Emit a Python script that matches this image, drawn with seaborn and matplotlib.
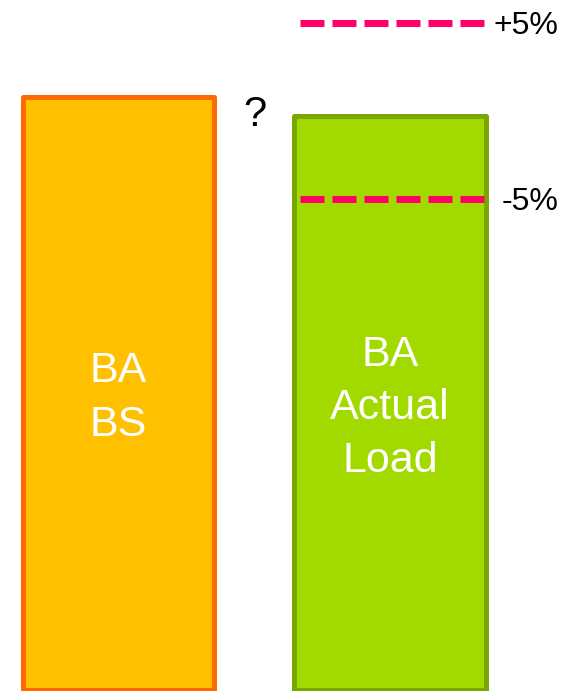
import matplotlib
matplotlib.use("Agg")
import matplotlib.pyplot as plt
import seaborn as sns
import pandas as pd

# Bars: benchmark size vs actual load
categories = ["BA\nBS", "BA\nActual\nLoad"]
values = [103.3, 100.0]
fill_colors = ["#FFC000", "#A2DA00"]
edge_colors = ["#FF6A00", "#78A800"]

# Tolerance band around the actual load
band_labels = ["+5%", "-5%"]
band_levels = [116.2, 85.5]

sns.set_theme(style="white")
plt.rcParams["font.family"] = ["Liberation Sans", "DejaVu Sans"]

fig = plt.figure(figsize=(5.62, 6.91), dpi=100)
ax = fig.add_axes([0, 0, 1, 1])

df = pd.DataFrame({"item": categories, "value": values})
sns.barplot(data=df, x="item", y="value", hue="item", palette=fill_colors,
            width=0.705, saturation=1, legend=False, ax=ax)
for patch, ec in zip(ax.patches, edge_colors):
    patch.set_edgecolor(ec)
    patch.set_linewidth(3.6)
    patch.set_joinstyle("round")

# White labels inside the bars
label_y = [50.8, 49.0]
for i, (cat, ly) in enumerate(zip(categories, label_y)):
    ax.text(i, ly, cat, ha="center", va="center", color="white",
            fontsize=31, linespacing=1.42)

# Dashed tolerance lines with their labels
for lvl, lab in zip(band_levels, band_labels):
    ax.plot([0.669, 1.347], [lvl, lvl], color="#FF0066", lw=5,
            linestyle=(0, (3.456, 1.152)), dash_capstyle="butt")
    ax.text(1.62, lvl - 0.5, lab, ha="right", va="center", color="black",
            fontsize=23)

ax.text(0.502, 100.1, "?", ha="center", va="center", color="black",
        fontsize=30)

ax.set_xlim(-0.4355, 1.634)
ax.set_ylim(-0.26, 120.16)
ax.set_axis_off()

fig.savefig("out.png", dpi=100)
